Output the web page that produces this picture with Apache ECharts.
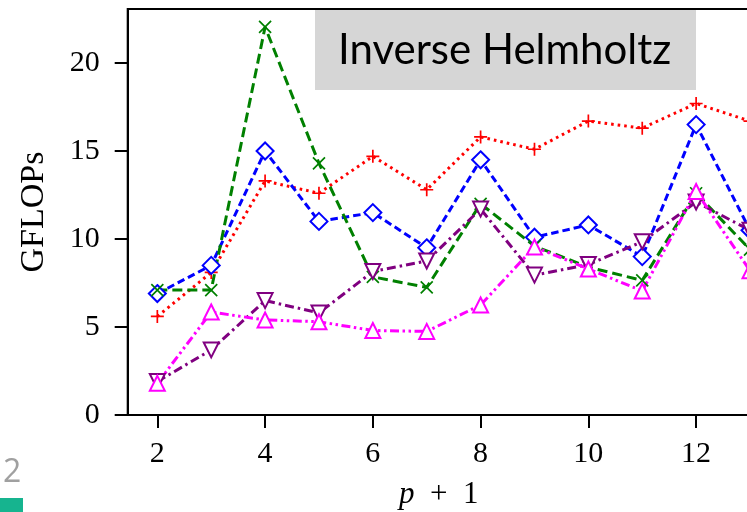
<!DOCTYPE html>
<html>
<head>
<meta charset="utf-8">
<script src="https://cdn.jsdelivr.net/npm/echarts@6/dist/echarts.min.js"></script>
<style>
html,body{margin:0;padding:0;background:#fff;}
#c{width:747px;height:512px;}
</style>
</head>
<body>
<div id="c"></div>
<script>
const xValues = [2, 3, 4, 5, 6, 7, 8, 9, 10, 11, 12, 13];
const redPlus = [5.6, 8.1, 13.3, 12.6, 14.7, 12.8, 15.8, 15.1, 16.7, 16.3, 17.7, 16.7];
const blueDiamond = [6.9, 8.5, 15.0, 11.0, 11.5, 9.5, 14.5, 10.1, 10.8, 9.0, 16.5, 10.5];
const greenX = [7.1, 7.1, 22.05, 14.3, 7.85, 7.25, 12.0, 9.6, 8.4, 7.65, 12.6, 9.4];
const purpleDown = [1.9, 3.7, 6.5, 5.8, 8.15, 8.75, 11.7, 7.95, 8.55, 9.85, 12.1, 10.5];
const magentaUp = [1.8, 5.85, 5.4, 5.3, 4.8, 4.75, 6.25, 9.55, 8.3, 7.05, 12.7, 8.2];
const xTicks = [2, 4, 6, 8, 10, 12];
const yTicks = [0, 5, 10, 15, 20];
const titleText = 'Inverse Helmholtz';
const xNameVar = 'p';
const xNameRest = '\u2002+\u20021';
const yName = 'GFLOPs';

const pairs = arr => xValues.map((x, i) => [x, arr[i]]);
const serif = '"Liberation Serif", "DejaVu Serif", serif';
const LW = 3;

function series(name, data, color, dash, symbol, size, extra) {
  return Object.assign({
    name: name,
    type: 'line',
    data: pairs(data),
    symbol: symbol,
    symbolSize: size,
    showAllSymbol: true,
    animation: false,
    lineStyle: {color: color, width: LW, type: dash, cap: 'butt'},
    itemStyle: {color: color, borderColor: color, borderWidth: 1.7},
    emphasis: {disabled: true},
    z: 3
  }, extra || {});
}

const chart = echarts.init(document.getElementById('c'), null, {renderer: 'canvas'});
chart.setOption({
  animation: false,
  backgroundColor: '#fff',
  grid: {left: 127.7, top: 9, right: -3, bottom: 97, show: true, borderColor: '#000', borderWidth: 2, backgroundColor: 'transparent', containLabel: false, outerBoundsMode: 'none'},
  xAxis: {
    type: 'value', min: 1.45, max: 13,
    name: '{i|' + xNameVar + '}{r|' + xNameRest + '}', nameLocation: 'middle', nameGap: 64,
    nameTextStyle: {
      fontFamily: serif, fontSize: 31, color: '#000',
      rich: {
        i: {fontFamily: serif, fontSize: 31, fontStyle: 'italic', color: '#000'},
        r: {fontFamily: serif, fontSize: 31, color: '#000'}
      }
    },
    axisLine: {show: true, lineStyle: {color: '#000', width: 2}},
    axisTick: {show: true, inside: false, length: 13, lineStyle: {color: '#000', width: 2}, customValues: xTicks},
    axisLabel: {fontFamily: serif, fontSize: 30, color: '#000', margin: 24, customValues: xTicks},
    splitLine: {show: false}
  },
  yAxis: {
    type: 'value', min: 0, max: 23.07,
    name: yName, nameLocation: 'middle', nameGap: 77,
    nameTextStyle: {fontFamily: serif, fontSize: 34, color: '#000'},
    axisLine: {show: true, lineStyle: {color: '#000', width: 2}},
    axisTick: {show: true, inside: false, length: 13, lineStyle: {color: '#000', width: 2}, customValues: yTicks},
    axisLabel: {fontFamily: serif, fontSize: 30, color: '#000', margin: 28, customValues: yTicks},
    splitLine: {show: false}
  },
  graphic: [
    {type: 'rect', shape: {x: 315, y: 10, width: 381, height: 80}, style: {fill: '#d6d6d6'}, z: 1},
    {type: 'text', x: 338, y: 50, style: {text: titleText, font: '42px Lato, "Noto Sans", sans-serif', fill: '#000', textVerticalAlign: 'middle'}, z: 2},
    {type: 'text', x: 3, y: 473, style: {text: '2', font: '32px "Open Sans", sans-serif', fill: '#a0a0a0', textVerticalAlign: 'middle'}, z: 2},
    {type: 'rect', shape: {x: 0, y: 498, width: 23, height: 14}, style: {fill: '#16b48f'}, z: 2}
  ],
  series: [
    series('red', redPlus, '#ff0000', [2.6, 4], 'path://M5,0 L5,10 M0,5 L10,5', 13),
    series('blue', blueDiamond, '#0000ff', [7.5, 4], 'emptyDiamond', 17),
    series('green', greenX, '#008000', [10, 5], 'path://M0,0 L10,10 M0,10 L10,0', 12),
    series('purple', purpleDown, '#800080', [9, 4, 2.5, 4], 'emptyTriangle', 15, {symbolRotate: 180}),
    series('magenta', magentaUp, '#ff00ff', [9, 3.5, 2.5, 3.5, 2.5, 3.5], 'emptyTriangle', 15)
  ]
});
</script>
</body>
</html>
